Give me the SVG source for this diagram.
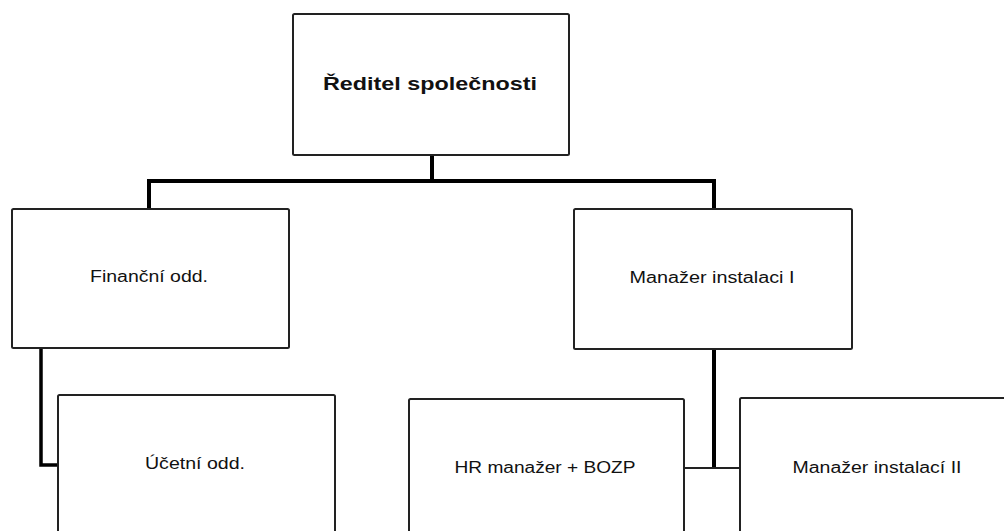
<svg xmlns="http://www.w3.org/2000/svg" width="1004" height="531" viewBox="0 0 1004 531">
  <style>
    .box { fill: #ffffff; stroke: #222222; stroke-width: 2; }
    .lbl { font-family: "Liberation Sans", Arial, sans-serif; font-size: 16px; fill: #111111; text-anchor: middle; }
    .title { font-weight: bold; font-size: 18px; }
    .thick { stroke: #000000; stroke-width: 4; fill: none; }
    .mid { stroke: #000000; stroke-width: 3.5; fill: none; }
    .thin { stroke: #222222; stroke-width: 2; fill: none; }
  </style>
  <rect width="1004" height="531" fill="#ffffff"/>
  <g id="connectors">
    <line class="thick" x1="432" y1="155" x2="432" y2="181"/>
    <line class="thick" x1="147" y1="181" x2="716" y2="181"/>
    <line class="thick" x1="149" y1="181" x2="149" y2="209"/>
    <line class="thick" x1="714" y1="181" x2="714" y2="209"/>
    <polyline class="mid" points="41,348 41,465 58,465"/>
    <line class="thick" x1="714" y1="348" x2="714" y2="468"/>
    <line class="thin" x1="684" y1="468" x2="741" y2="468"/>
  </g>
  <g id="reditel">
    <rect class="box" x="293" y="14" width="276" height="141" rx="1.5"/>
    <text class="lbl title" x="430" y="90" textLength="214" lengthAdjust="spacingAndGlyphs">Ředitel společnosti</text>
  </g>
  <g id="financni">
    <rect class="box" x="12" y="209" width="277" height="139" rx="1.5"/>
    <text class="lbl" x="149" y="282" textLength="118" lengthAdjust="spacingAndGlyphs">Finanční odd.</text>
  </g>
  <g id="manazer1">
    <rect class="box" x="574" y="209" width="278" height="140" rx="1.5"/>
    <text class="lbl" x="712" y="283" textLength="165" lengthAdjust="spacingAndGlyphs">Manažer instalaci I</text>
  </g>
  <g id="ucetni">
    <rect class="box" x="58" y="395" width="277" height="170" rx="1.5"/>
    <text class="lbl" x="195" y="469" textLength="100" lengthAdjust="spacingAndGlyphs">Účetní odd.</text>
  </g>
  <g id="hr">
    <rect class="box" x="409" y="399" width="275" height="170" rx="1.5"/>
    <text class="lbl" x="545" y="473" textLength="181" lengthAdjust="spacingAndGlyphs">HR manažer + BOZP</text>
  </g>
  <g id="manazer2">
    <rect class="box" x="740" y="398" width="278" height="170" rx="1.5"/>
    <text class="lbl" x="877" y="473" textLength="169" lengthAdjust="spacingAndGlyphs">Manažer instalací II</text>
  </g>
</svg>
